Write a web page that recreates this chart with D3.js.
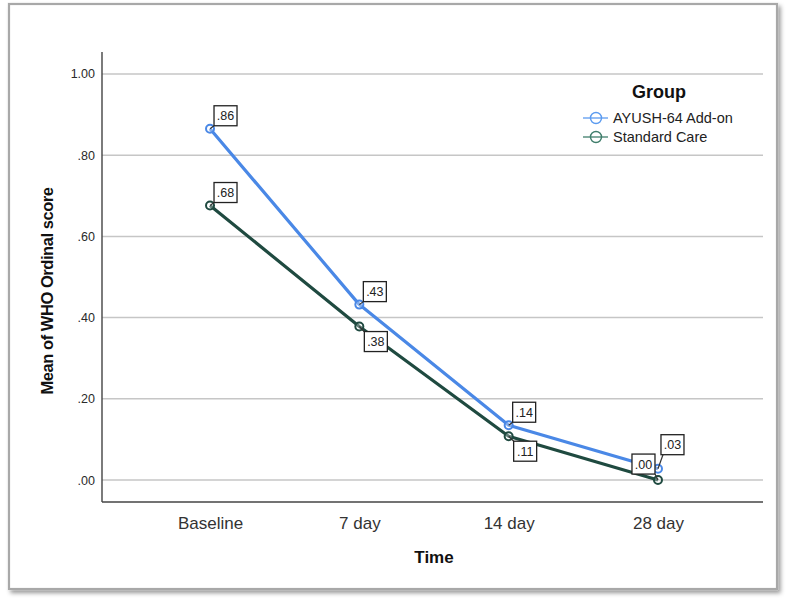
<!DOCTYPE html>
<html>
<head>
<meta charset="utf-8">
<script src="https://cdn.jsdelivr.net/npm/d3@7"></script>
<style>
  html, body { margin: 0; padding: 0; background: #ffffff; }
  svg { display: block; font-family: Arial, "Liberation Sans", sans-serif; }
</style>
</head>
<body>
<svg id="chart" width="787" height="603"></svg>
<script>
// ---- data ----
const categories = ["Baseline", "7 day", "14 day", "28 day"];
const groups = ["AYUSH-64 Add-on", "Standard Care"];
const ayushValues = [0.865, 0.432, 0.135, 0.028];
const standardValues = [0.676, 0.378, 0.108, 0.0];
const ayushLabels = [".86", ".43", ".14", ".03"];
const standardLabels = [".68", ".38", ".11", ".00"];
const yTicks = [0, 0.2, 0.4, 0.6, 0.8, 1.0];

// ---- layout/style ----
const lineColors = ["#4a88e6", "#1f4a40"];
const legendColors = ["#5b9bf0", "#3f7d6b"];
// label box placements relative to point
const ayushPlace = ["ur", "ur", "ur", "urFar"];
const standardPlace = ["ur", "lr", "lr", "ul"];

const svg = d3.select("#chart");
const defs = svg.append("defs");
const f = defs.append("filter").attr("id", "shadow").attr("x", "-5%").attr("y", "-5%").attr("width", "110%").attr("height", "110%");
f.append("feDropShadow").attr("dx", 2.5).attr("dy", 3).attr("stdDeviation", 2.2).attr("flood-color", "#000").attr("flood-opacity", 0.4);

// frame
svg.append("rect").attr("x", 9).attr("y", 4).attr("width", 768).attr("height", 585)
  .attr("fill", "#fff").attr("stroke", "#a8a8a8").attr("stroke-width", 2.2)
  .attr("filter", "url(#shadow)");

const x = d3.scalePoint().domain(categories).range([104, 764]).padding(0.71);
const y = d3.scaleLinear().domain([-0.054, 1.054]).range([502, 52]);
const xL = 102, xR = 763;

// gridlines
svg.append("g").selectAll("line").data(yTicks).join("line")
  .attr("x1", xL).attr("x2", xR)
  .attr("y1", d => y(d)).attr("y2", d => y(d))
  .attr("stroke", "#c6c6c6").attr("stroke-width", 1.5);

// y axis
const yAxis = d3.axisLeft(y).tickValues(yTicks).tickSize(0).tickPadding(7)
  .tickFormat(d => d3.format(".2f")(d).replace(/^0\./, "."));
const gy = svg.append("g").attr("transform", `translate(${xL},0)`).call(yAxis);
gy.select(".domain").remove();
gy.selectAll("text").attr("font-size", 12.5).attr("fill", "#2a2a2a").attr("font-family", "Arial, 'Liberation Sans', sans-serif");

// x axis
const xAxis = d3.axisBottom(x).tickSize(0).tickPadding(15);
const gx = svg.append("g").attr("transform", `translate(0,502)`).call(xAxis);
gx.select(".domain").remove();
gx.selectAll("text").attr("font-size", 17).attr("fill", "#333").attr("font-family", "Arial, 'Liberation Sans', sans-serif");

// axis lines
svg.append("line").attr("x1", xL).attr("x2", xL).attr("y1", y.range()[1]).attr("y2", 502)
  .attr("stroke", "#444").attr("stroke-width", 1.4);
svg.append("line").attr("x1", xL).attr("x2", xR).attr("y1", 502).attr("y2", 502)
  .attr("stroke", "#444").attr("stroke-width", 1.4);

// axis titles
svg.append("text").attr("x", 434).attr("y", 563).attr("text-anchor", "middle")
  .attr("font-size", 17).attr("font-weight", "bold").attr("fill", "#111").text("Time");
svg.append("text").attr("transform", "translate(52.5,291) rotate(-90)").attr("text-anchor", "middle")
  .attr("font-size", 16.5).attr("font-weight", "bold").attr("letter-spacing", -0.45).attr("fill", "#111")
  .text("Mean of WHO Ordinal score");

// series
const series = [
  { name: groups[0], values: ayushValues, labels: ayushLabels, place: ayushPlace, color: lineColors[0] },
  { name: groups[1], values: standardValues, labels: standardLabels, place: standardPlace, color: lineColors[1] }
];
const line = d3.line().x((d, i) => x(categories[i])).y(d => y(d));

[series[1], series[0]].forEach(s => {
  svg.append("path").attr("d", line(s.values)).attr("fill", "none")
    .attr("stroke", s.color).attr("stroke-width", 3.2).attr("stroke-linejoin", "round");
  svg.append("g").selectAll("circle").data(s.values).join("circle")
    .attr("cx", (d, i) => x(categories[i])).attr("cy", d => y(d)).attr("r", 4)
    .attr("fill", "#fff").attr("fill-opacity", 0.3).attr("stroke", s.color).attr("stroke-width", 2);
});

// labels
const bw = 23, bh = 20;
series.forEach(s => {
  s.values.forEach((v, i) => {
    const px = x(categories[i]), py = y(v);
    let bx, by, lx, ly;
    const p = s.place[i];
    if (p === "ur") { bx = px + 4; by = py - 3 - bh; lx = bx; ly = by + bh; }
    else if (p === "urFar") { bx = px + 3; by = py - 14 - bh; lx = bx + 2; ly = by + bh; }
    else if (p === "lr") { bx = px + 5; by = py + 5; lx = bx; ly = by; }
    else { bx = px - 3 - bw; by = py - 6 - bh; lx = bx + bw; ly = by + bh; }
    svg.append("line").attr("x1", px).attr("y1", py).attr("x2", lx).attr("y2", ly)
      .attr("stroke", "#333").attr("stroke-width", 1.2);
    svg.append("rect").attr("x", bx).attr("y", by).attr("width", bw).attr("height", bh)
      .attr("fill", "#fff").attr("stroke", "#222").attr("stroke-width", 1.3);
    svg.append("text").attr("x", bx + bw / 2).attr("y", by + bh / 2 + 4.5).attr("text-anchor", "middle")
      .attr("font-size", 12.5).attr("fill", "#222").text(s.labels[i]);
  });
});

// legend
svg.append("text").attr("x", 659).attr("y", 98).attr("text-anchor", "middle")
  .attr("font-size", 18).attr("font-weight", "bold").attr("fill", "#111").text("Group");
const lg = svg.append("g").selectAll("g").data(groups).join("g")
  .attr("transform", (d, i) => `translate(0,${118 + i * 19})`);
lg.append("line").attr("x1", 583).attr("x2", 608).attr("y1", 0).attr("y2", 0)
  .attr("stroke", (d, i) => legendColors[i]).attr("stroke-width", 1.3);
lg.append("circle").attr("cx", 596).attr("cy", 0).attr("r", 5.5)
  .attr("fill", "none").attr("stroke", (d, i) => legendColors[i]).attr("stroke-width", 1.4);
lg.append("text").attr("x", 613).attr("y", 5).attr("font-size", 14.5).attr("fill", "#222").text(d => d);
</script>
</body>
</html>
